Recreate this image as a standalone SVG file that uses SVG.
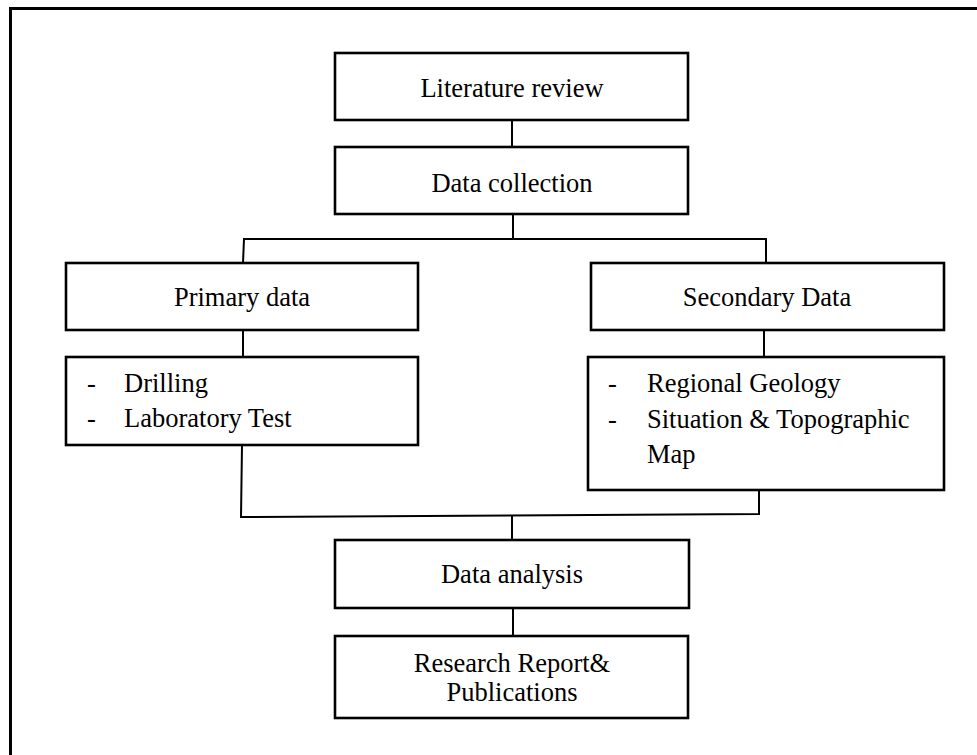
<svg xmlns="http://www.w3.org/2000/svg" width="977" height="755" viewBox="0 0 977 755">
<style>
.box{fill:#fff;stroke:#000;stroke-width:2.6}
.frame{fill:none;stroke:#000;stroke-width:3}
.con{fill:none;stroke:#000;stroke-width:2}
text{font-family:"Liberation Serif","Times New Roman",serif;font-size:26.5px;fill:#000}
.c{text-anchor:middle}
</style>
<rect width="977" height="755" fill="#fff"/>
<rect class="frame" x="10.5" y="8.5" width="980" height="760"/>
<g id="connectors">
<line class="con" x1="512" y1="120" x2="512" y2="147"/>
<polyline class="con" points="243,263 244,239 766,239 766,263"/>
<line class="con" x1="513" y1="214" x2="513" y2="239"/>
<line class="con" x1="243" y1="330" x2="243" y2="357"/>
<line class="con" x1="764" y1="330" x2="764" y2="357"/>
<polyline class="con" points="242,445 241,517 759,514 759,490"/>
<line class="con" x1="512" y1="516" x2="512" y2="540"/>
<line class="con" x1="513" y1="608" x2="513" y2="636"/>
</g>
<g id="literature">
<rect class="box" x="335" y="53" width="353" height="67"/>
<text class="c" x="512" y="97">Literature review</text>
</g>
<g id="collection">
<rect class="box" x="335" y="147" width="353" height="67"/>
<text class="c" x="512" y="192">Data collection</text>
</g>
<g id="primary">
<rect class="box" x="66" y="263" width="352" height="67"/>
<text class="c" x="242" y="306">Primary data</text>
</g>
<g id="secondary">
<rect class="box" x="591" y="263" width="353" height="67"/>
<text class="c" x="767" y="306">Secondary Data</text>
</g>
<g id="primary-items">
<rect class="box" x="66" y="357" width="352" height="88"/>
<text x="87" y="392">-</text>
<text x="124" y="392">Drilling</text>
<text x="87" y="427">-</text>
<text x="124" y="427">Laboratory Test</text>
</g>
<g id="secondary-items">
<rect class="box" x="588" y="357" width="356" height="133"/>
<text x="608" y="392">-</text>
<text x="647" y="392">Regional Geology</text>
<text x="608" y="428">-</text>
<text x="647" y="428">Situation &amp; Topographic</text>
<text x="647" y="463">Map</text>
</g>
<g id="analysis">
<rect class="box" x="335" y="540" width="354" height="68"/>
<text class="c" x="512" y="583">Data analysis</text>
</g>
<g id="report">
<rect class="box" x="335" y="636" width="353" height="82"/>
<text class="c" x="512" y="672">Research Report&amp;</text>
<text class="c" x="512" y="701">Publications</text>
</g>
</svg>
